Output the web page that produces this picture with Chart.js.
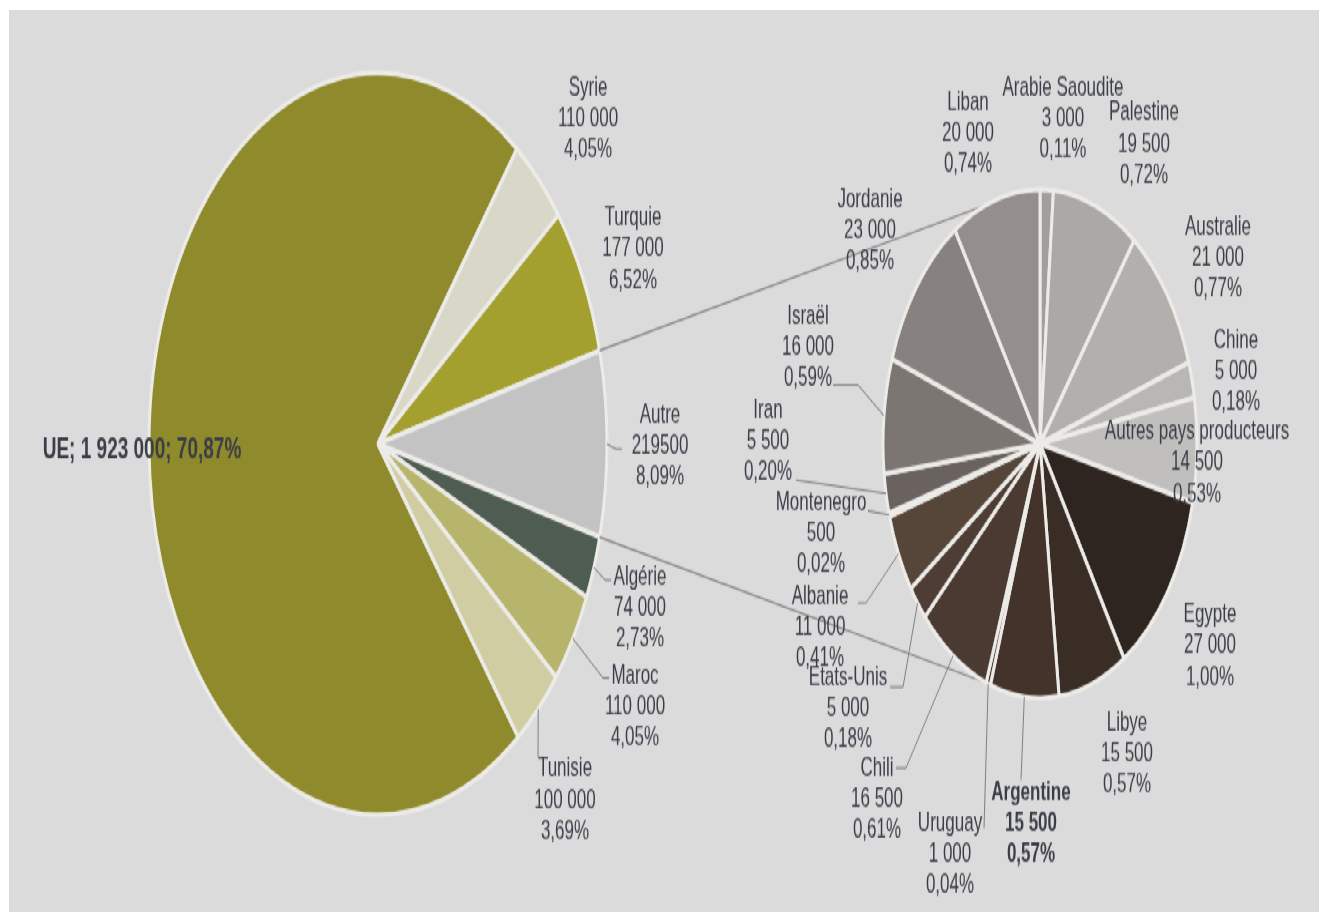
<!DOCTYPE html>
<html lang="fr">
<head>
<meta charset="utf-8">
<title>Production d'huile d'olive</title>
<script src="https://cdn.jsdelivr.net/npm/chart.js@4.4.1/dist/chart.umd.min.js"></script>
<style>
  html, body { margin: 0; padding: 0; background: #dbdbdb; overflow: hidden; }
  /* white frame on top and left only */
  #bordHaut { position: fixed; left: 0; top: 0; width: 2000px; height: 10px; background: #fff; }
  #bordGauche { position: fixed; left: 0; top: 0; width: 9px; height: 2000px; background: #fff; }
  /* the original picture is stretched vertically: draw at 563px and stretch */
  #scene { position: absolute; left: 0; top: 0; width: 1319px; height: 563px; transform: scaleY(1.62); transform-origin: 0 0; }
  #scene canvas { position: absolute; left: 0; top: 0; }
</style>
</head>
<body>
<div id="bordHaut"></div>
<div id="bordGauche"></div>
<div id="scene">
  <canvas id="chartMain" width="1319" height="563"></canvas>
  <canvas id="chartSub" width="1319" height="563"></canvas>
</div>
<script>
const ETIRE = 1.62;

// camembert principal
const paysMain = ['UE', 'Syrie', 'Turquie', 'Autre', 'Algérie', 'Maroc', 'Tunisie'];
const valeursMain = [1923000, 110000, 177000, 219500, 74000, 110000, 100000];
const couleursMain = ['#8f8a2b', '#d9d7c7', '#a4a030', '#c3c3c3', '#4f5c51', '#b7b46b', '#d0cda3'];

// détail de "Autre"
const paysSub = ['Arabie Saoudite', 'Palestine', 'Australie', 'Chine', 'Autres pays producteurs', 'Egypte', 'Libye',
  'Argentine', 'Uruguay', 'Chili', 'Etats-Unis', 'Albanie', 'Montenegro', 'Iran', 'Israël', 'Jordanie', 'Liban'];
const valeursSub = [3000, 19500, 21000, 5000, 14500, 27000, 15500, 15500, 1000, 16500, 5000, 11000, 500, 5500, 16000, 23000, 20000];
const couleursSub = ['#a29e9b', '#aba8a5', '#b2afad', '#b9b7b5', '#c1bfbd', '#2f2520', '#3a2d26',
  '#43332b', '#47372e', '#4a3a31', '#4e3d34', '#564539', '#5c4e45', '#69625e', '#7c7672', '#87827f', '#948f8c'];

const total = valeursMain.reduce((a, b) => a + b, 0);

// position des étiquettes (x centre, y de la 1re ligne, en px de l'image)
const posMain = [[142, 450], [588, 88], [633, 218], [660, 415], [640, 577], [635, 676], [565, 769]];
const traitsMain = [null, null, null, [[616, 449], [622, 449]], [[605, 580], [611, 580]], [[603, 678], [609, 678]], [[538, 757]]];
const posSub = [[1063, 88], [1144, 113], [1218, 227], [1236, 341], [1197, 432], [1210, 615], [1127, 723],
  [1031, 793], [950, 823], [877, 768], [848, 677], [820, 597], [821, 502], [768, 410], [808, 316], [870, 200], [968, 102]];
const traitsSub = [null, null, null, null, null, null, null,
  [[1021, 780]], [[984, 828]], [[906, 768], [896, 768]], [[903, 687], [890, 687]], [[866, 603], [858, 603]],
  [[868, 511]], [[796, 480]], [[858, 385], [833, 385]], null, null];

function fmtValeur(v, brut) {
  return brut ? String(v) : String(v).replace(/\B(?=(\d{3})+(?!\d))/g, ' ');
}
function fmtPct(v) {
  return (v / total * 100).toFixed(2).replace('.', ',') + '%';
}

const etiquettes = {
  id: 'etiquettes',
  afterDatasetsDraw(chart, args, opts) {
    const ctx = chart.ctx;
    const arcs = chart.getDatasetMeta(0).data;
    const noms = chart.data.labels;
    const vals = chart.data.datasets[0].data;
    ctx.save();
    // traits de rappel
    ctx.strokeStyle = '#7f7f7f';
    ctx.lineWidth = 1;
    arcs.forEach((arc, i) => {
      const pts = opts.traits[i];
      if (!pts) return;
      const mid = (arc.startAngle + arc.endAngle) / 2;
      ctx.beginPath();
      ctx.moveTo(arc.x + Math.cos(mid) * arc.outerRadius, arc.y + Math.sin(mid) * arc.outerRadius);
      pts.forEach(p => ctx.lineTo(p[0], p[1] / ETIRE));
      ctx.stroke();
    });
    ctx.fillStyle = '#3b3d48';
    ctx.textAlign = 'center';
    ctx.textBaseline = 'middle';
    noms.forEach((nom, i) => {
      const [x, y] = opts.positions[i];
      const gras = opts.gras.includes(nom);
      if (opts.uneLigne.includes(nom)) {
        ctx.font = 'bold 19px "Liberation Sans", Arial, sans-serif';
        ctx.fillText(`${nom}; ${fmtValeur(vals[i])}; ${fmtPct(vals[i])}`, x, y / ETIRE);
        return;
      }
      ctx.font = (gras ? 'bold ' : '') + '17px "Liberation Sans", Arial, sans-serif';
      const lignes = [nom, fmtValeur(vals[i], opts.brut.includes(nom)), fmtPct(vals[i])];
      lignes.forEach((t, k) => ctx.fillText(t, x, y / ETIRE + k * 31 / ETIRE));
    });
    ctx.restore();
  }
};

// rotation pour centrer "Autre" à droite
const idxAutre = paysMain.indexOf('Autre');
const avantAutre = valeursMain.slice(0, idxAutre).reduce((a, b) => a + b, 0);
const rotationMain = 90 - (avantAutre + valeursMain[idxAutre] / 2) / total * 360;

const mainChart = new Chart(document.getElementById('chartMain'), {
  type: 'pie',
  data: {
    labels: paysMain,
    datasets: [{ data: valeursMain, backgroundColor: couleursMain, borderColor: '#ecebe8', borderWidth: 3 }]
  },
  options: {
    responsive: false,
    animation: false,
    events: [],
    rotation: rotationMain,
    radius: 229,
    layout: { padding: { left: 149, right: 712, top: 45, bottom: 60 } },
    plugins: {
      legend: { display: false },
      tooltip: { enabled: false },
      etiquettes: { positions: posMain, traits: traitsMain, gras: ['UE'], uneLigne: ['UE'], brut: ['Autre'] }
    }
  },
  plugins: [etiquettes]
});

// lignes reliant "Autre" au second camembert
const connecteurs = {
  id: 'connecteurs',
  beforeDatasetsDraw(chart) {
    const autre = mainChart.getDatasetMeta(0).data[idxAutre];
    const c = chart.getDatasetMeta(0).data[0];
    const a = 110 * Math.PI / 180;
    const ctx = chart.ctx;
    ctx.save();
    ctx.strokeStyle = '#858585';
    ctx.lineWidth = 1.2;
    ctx.beginPath();
    ctx.moveTo(autre.x + Math.cos(autre.startAngle) * autre.outerRadius, autre.y + Math.sin(autre.startAngle) * autre.outerRadius);
    ctx.lineTo(c.x + Math.cos(-a) * c.outerRadius, c.y + Math.sin(-a) * c.outerRadius);
    ctx.moveTo(autre.x + Math.cos(autre.endAngle) * autre.outerRadius, autre.y + Math.sin(autre.endAngle) * autre.outerRadius);
    ctx.lineTo(c.x + Math.cos(a) * c.outerRadius, c.y + Math.sin(a) * c.outerRadius);
    ctx.stroke();
    ctx.restore();
  }
};

const subChart = new Chart(document.getElementById('chartSub'), {
  type: 'pie',
  data: {
    labels: paysSub,
    datasets: [{ data: valeursSub, backgroundColor: couleursSub, borderColor: '#ecebe8', borderWidth: 3 }]
  },
  options: {
    responsive: false,
    animation: false,
    events: [],
    rotation: 0,
    radius: 157,
    layout: { padding: { left: 883, right: 122, top: 117, bottom: 132 } },
    plugins: {
      legend: { display: false },
      tooltip: { enabled: false },
      etiquettes: { positions: posSub, traits: traitsSub, gras: ['Argentine'], uneLigne: [], brut: [] }
    }
  },
  plugins: [connecteurs, etiquettes]
});
</script>
</body>
</html>
